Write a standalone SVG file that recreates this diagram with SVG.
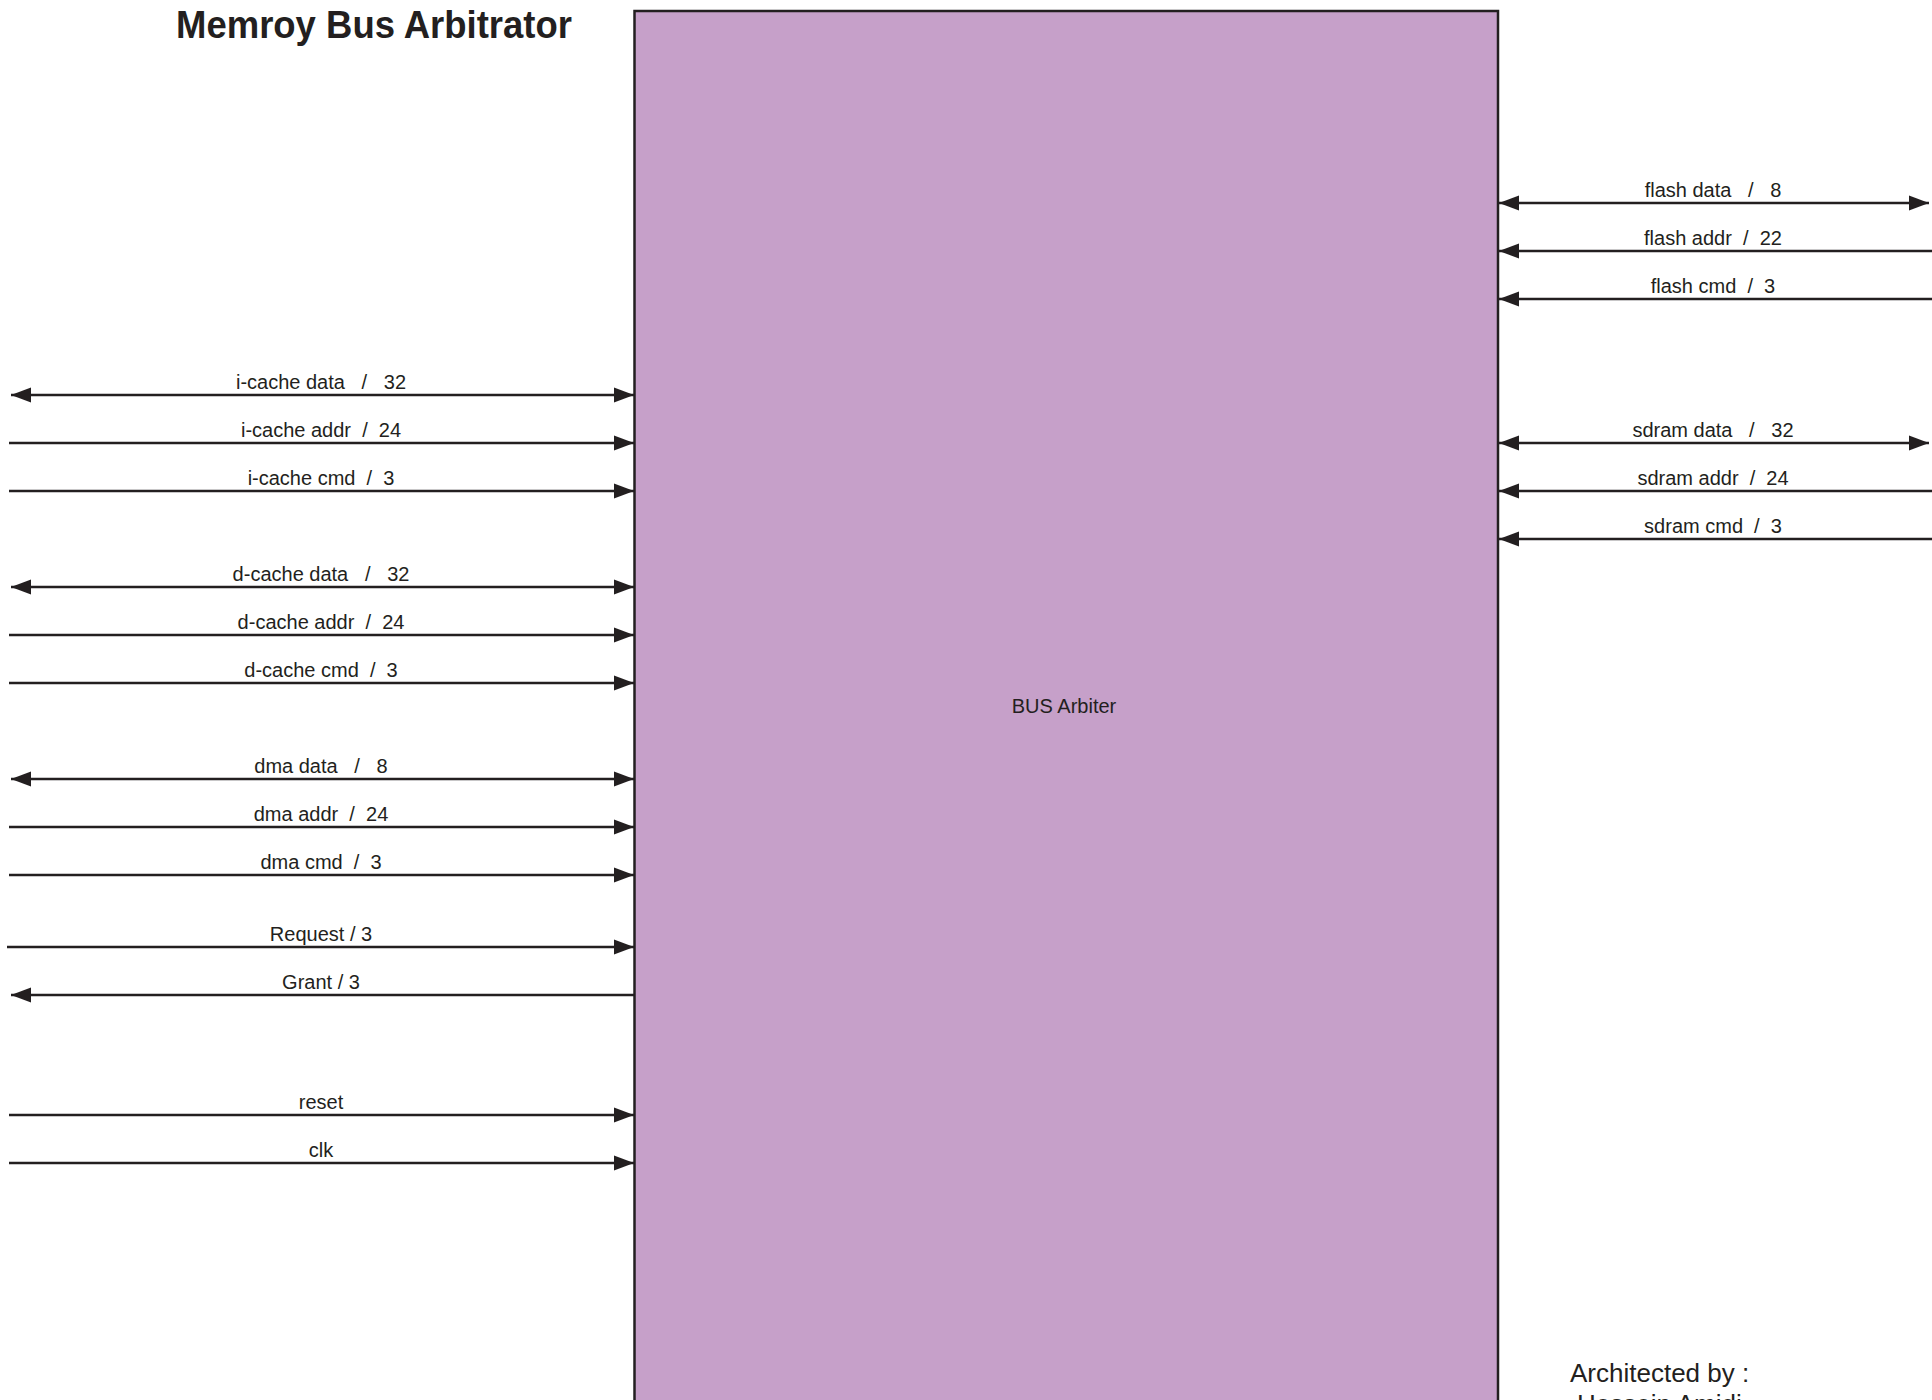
<svg xmlns="http://www.w3.org/2000/svg" width="1932" height="1400" viewBox="0 0 1932 1400">
<defs>
<style>
.lbl{font-family:"Liberation Sans",Arial,sans-serif;font-size:20px;fill:#231f20;text-anchor:middle;white-space:pre}
.ln{stroke:#231f20;stroke-width:2.5;fill:none}
.title{font-family:"Liberation Sans",Arial,sans-serif;font-size:38px;font-weight:bold;fill:#231f20;text-anchor:middle}
.note{font-family:"Liberation Sans",Arial,sans-serif;font-size:26px;fill:#231f20}
</style>
<marker id="ah" markerWidth="20" markerHeight="16" refX="20" refY="8" orient="auto-start-reverse" markerUnits="userSpaceOnUse">
<path d="M0,0.5 L20,8 L0,15.5 Z" fill="#231f20"/>
</marker>
</defs>
<rect width="1932" height="1400" fill="#ffffff"/>
<text class="title" x="374" y="38" textLength="396" lengthAdjust="spacingAndGlyphs">Memroy Bus Arbitrator</text>
<g id="bus-arbiter">
<rect x="634.5" y="11" width="863.5" height="1420" fill="#c6a0c9" stroke="#231f20" stroke-width="2.5"/>
<text class="lbl" x="1064" y="713">BUS Arbiter</text>
</g>
<g id="connectors">
<line class="ln" x1="11" y1="395" x2="634" y2="395" marker-start="url(#ah)" marker-end="url(#ah)"/>
<line class="ln" x1="9" y1="443" x2="634" y2="443" marker-end="url(#ah)"/>
<line class="ln" x1="9" y1="491" x2="634" y2="491" marker-end="url(#ah)"/>
<line class="ln" x1="11" y1="587" x2="634" y2="587" marker-start="url(#ah)" marker-end="url(#ah)"/>
<line class="ln" x1="9" y1="635" x2="634" y2="635" marker-end="url(#ah)"/>
<line class="ln" x1="9" y1="683" x2="634" y2="683" marker-end="url(#ah)"/>
<line class="ln" x1="11" y1="779" x2="634" y2="779" marker-start="url(#ah)" marker-end="url(#ah)"/>
<line class="ln" x1="9" y1="827" x2="634" y2="827" marker-end="url(#ah)"/>
<line class="ln" x1="9" y1="875" x2="634" y2="875" marker-end="url(#ah)"/>
<line class="ln" x1="7" y1="947" x2="634" y2="947" marker-end="url(#ah)"/>
<line class="ln" x1="634" y1="995" x2="11" y2="995" marker-end="url(#ah)"/>
<line class="ln" x1="9" y1="1115" x2="634" y2="1115" marker-end="url(#ah)"/>
<line class="ln" x1="9" y1="1163" x2="634" y2="1163" marker-end="url(#ah)"/>
<line class="ln" x1="1499" y1="203" x2="1929" y2="203" marker-start="url(#ah)" marker-end="url(#ah)"/>
<line class="ln" x1="1932" y1="251" x2="1499" y2="251" marker-end="url(#ah)"/>
<line class="ln" x1="1932" y1="299" x2="1499" y2="299" marker-end="url(#ah)"/>
<line class="ln" x1="1499" y1="443" x2="1929" y2="443" marker-start="url(#ah)" marker-end="url(#ah)"/>
<line class="ln" x1="1932" y1="491" x2="1499" y2="491" marker-end="url(#ah)"/>
<line class="ln" x1="1932" y1="539" x2="1499" y2="539" marker-end="url(#ah)"/>
</g>
<g id="labels">
<text class="lbl" x="321" y="388.5">i-cache data   /   32</text>
<text class="lbl" x="321" y="436.5">i-cache addr  /  24</text>
<text class="lbl" x="321" y="484.5">i-cache cmd  /  3</text>
<text class="lbl" x="321" y="580.5">d-cache data   /   32</text>
<text class="lbl" x="321" y="628.5">d-cache addr  /  24</text>
<text class="lbl" x="321" y="676.5">d-cache cmd  /  3</text>
<text class="lbl" x="321" y="772.5">dma data   /   8</text>
<text class="lbl" x="321" y="820.5">dma addr  /  24</text>
<text class="lbl" x="321" y="868.5">dma cmd  /  3</text>
<text class="lbl" x="321" y="940.5">Request / 3</text>
<text class="lbl" x="321" y="988.5">Grant / 3</text>
<text class="lbl" x="321" y="1108.5">reset</text>
<text class="lbl" x="321" y="1156.5">clk</text>
<text class="lbl" x="1713" y="196.5">flash data   /   8</text>
<text class="lbl" x="1713" y="244.5">flash addr  /  22</text>
<text class="lbl" x="1713" y="292.5">flash cmd  /  3</text>
<text class="lbl" x="1713" y="436.5">sdram data   /   32</text>
<text class="lbl" x="1713" y="484.5">sdram addr  /  24</text>
<text class="lbl" x="1713" y="532.5">sdram cmd  /  3</text>
</g>
<g id="credit">
<text class="note" x="1570" y="1382">Architected by :</text>
<text class="note" x="1577" y="1413">Hossein Amidi</text>
</g>
</svg>
